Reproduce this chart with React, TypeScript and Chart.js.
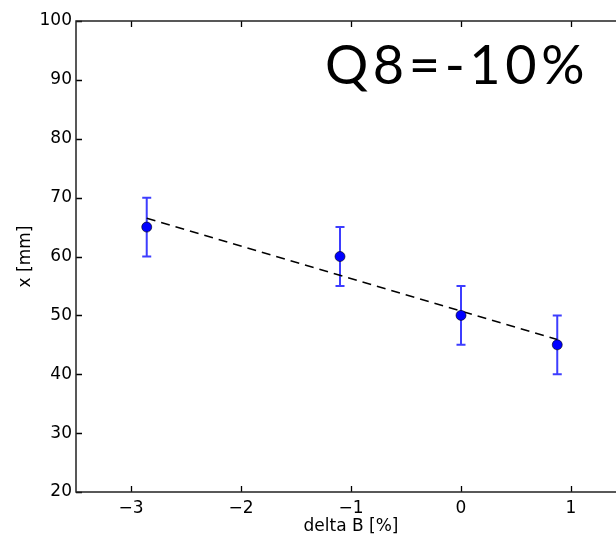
import { useEffect, useRef } from "react";
import { Chart, registerables } from "chart.js";
Chart.register(...registerables);

// data
const deltaB = [-2.857, -1.1, 0, 0.875];
const xMm = [65, 60, 50, 45];
const xErr = [5, 5, 5, 5];
const fitDeltaB = [-2.857, 0.875];
const fitX = [66.5, 45.9];
const xTicks = [-3, -2, -1, 0, 1];
const yTicks = [20, 30, 40, 50, 60, 70, 80, 90, 100];
const annotation = "Q8=-10%";

const CW = 660;
const CH = 537;

export default function App() {
  const ref = useRef<HTMLCanvasElement | null>(null);
  useEffect(() => {
    const canvas = ref.current!;
    const framePlugin = {
      id: "frameTicks",
      beforeDatasetsDraw(chart: any) {
        const { ctx, scales } = chart;
        const xs = scales.x, ys = scales.y;
        ctx.save();
        ctx.strokeStyle = "rgba(40,40,255,0.9)";
        ctx.lineWidth = 2;
        for (let i = 0; i < deltaB.length; i++) {
          const px = xs.getPixelForValue(deltaB[i]);
          const top = ys.getPixelForValue(xMm[i] + xErr[i]);
          const bot = ys.getPixelForValue(xMm[i] - xErr[i]);
          ctx.beginPath();
          ctx.moveTo(px, top);
          ctx.lineTo(px, bot);
          ctx.moveTo(px - 4.5, top);
          ctx.lineTo(px + 4.5, top);
          ctx.moveTo(px - 4.5, bot);
          ctx.lineTo(px + 4.5, bot);
          ctx.stroke();
        }
        ctx.restore();
      },
      afterDraw(chart: any) {
        const { ctx, chartArea: a, scales } = chart;
        const xs = scales.x, ys = scales.y;
        ctx.save();
        ctx.strokeStyle = "#000";
        ctx.lineWidth = 1.3;
        const tl = 6;
        ctx.beginPath();
        for (const t of xTicks) {
          const px = Math.round(xs.getPixelForValue(t)) + 0.5;
          ctx.moveTo(px, a.bottom);
          ctx.lineTo(px, a.bottom - tl);
          ctx.moveTo(px, a.top);
          ctx.lineTo(px, a.top + tl);
        }
        for (const t of yTicks) {
          const py = Math.round(ys.getPixelForValue(t)) + 0.5;
          ctx.moveTo(a.left, py);
          ctx.lineTo(a.left + tl, py);
          ctx.moveTo(a.right, py);
          ctx.lineTo(a.right - tl, py);
        }
        ctx.stroke();
        ctx.strokeStyle = "#222";
        ctx.lineWidth = 1.5;
        ctx.strokeRect(a.left, a.top, a.right - a.left, a.bottom - a.top);
        ctx.restore();
      },
    };

    const chart = new Chart(canvas, {
      type: "scatter",
      data: {
        datasets: [
          {
            label: "data",
            data: deltaB.map((v, i) => ({ x: v, y: xMm[i] })),
            backgroundColor: "#0000ff",
            borderColor: "#000",
            borderWidth: 0.6,
            pointRadius: 5,
            order: 0,
          },
          {
            label: "fit",
            type: "line",
            data: fitDeltaB.map((v, i) => ({ x: v, y: fitX[i] })),
            borderColor: "#000",
            borderWidth: 1.5,
            borderDash: [9, 6],
            pointRadius: 0,
            fill: false,
            order: 1,
          } as any,
        ],
      },
      options: {
        animation: false,
        responsive: false,
        devicePixelRatio: 1,
        layout: { padding: { left: 0, top: 21, right: CW - 626, bottom: 0 } },
        plugins: { legend: { display: false }, tooltip: { enabled: false } },
        scales: {
          x: {
            type: "linear",
            min: -3.5,
            max: 1.5,
            afterBuildTicks: (s: any) => {
              s.ticks = xTicks.map((v) => ({ value: v }));
            },
            afterFit: (s: any) => {
              s.height = CH - 492;
            },
            grid: { display: false, drawTicks: false },
            border: { display: false },
            ticks: {
              color: "#000",
              padding: 6,
              font: { family: "DejaVu Sans", size: 17 },
              callback: (v: any) => (Number(v) < 0 ? "\u2212" + Math.abs(Number(v)) : String(v)),
            },
            title: {
              display: true,
              text: "delta B [%]",
              color: "#000",
              font: { family: "DejaVu Sans", size: 17 },
              padding: { top: 1, bottom: 0 },
            },
          },
          y: {
            type: "linear",
            min: 20,
            max: 100,
            afterBuildTicks: (s: any) => {
              s.ticks = yTicks.map((v) => ({ value: v }));
            },
            afterFit: (s: any) => {
              s.width = 76;
            },
            grid: { display: false, drawTicks: false },
            border: { display: false },
            ticks: {
              color: "#000",
              padding: 4,
              font: { family: "DejaVu Sans", size: 17 },
            },
            title: {
              display: true,
              text: "x [mm]",
              color: "#000",
              font: { family: "DejaVu Sans", size: 17 },
              padding: { top: 15, bottom: 0 },
            },
          },
        },
      },
      plugins: [framePlugin],
    });
    return () => chart.destroy();
  }, []);

  return (
    <div
      style={{
        position: "fixed",
        left: 0,
        top: 0,
        width: 616,
        height: 537,
        overflow: "hidden",
        background: "#fff",
      }}
    >
      <canvas ref={ref} width={CW} height={CH} style={{ width: CW, height: CH, display: "block" }} />
      <div
        style={{
          position: "absolute",
          left: 325,
          top: 32,
          fontFamily: "Lato, 'Open Sans', sans-serif",
          fontSize: 54,
          letterSpacing: "4.6px",
          lineHeight: "64px",
          color: "#000",
          whiteSpace: "nowrap",
        }}
      >
        {annotation}
      </div>
    </div>
  );
}
